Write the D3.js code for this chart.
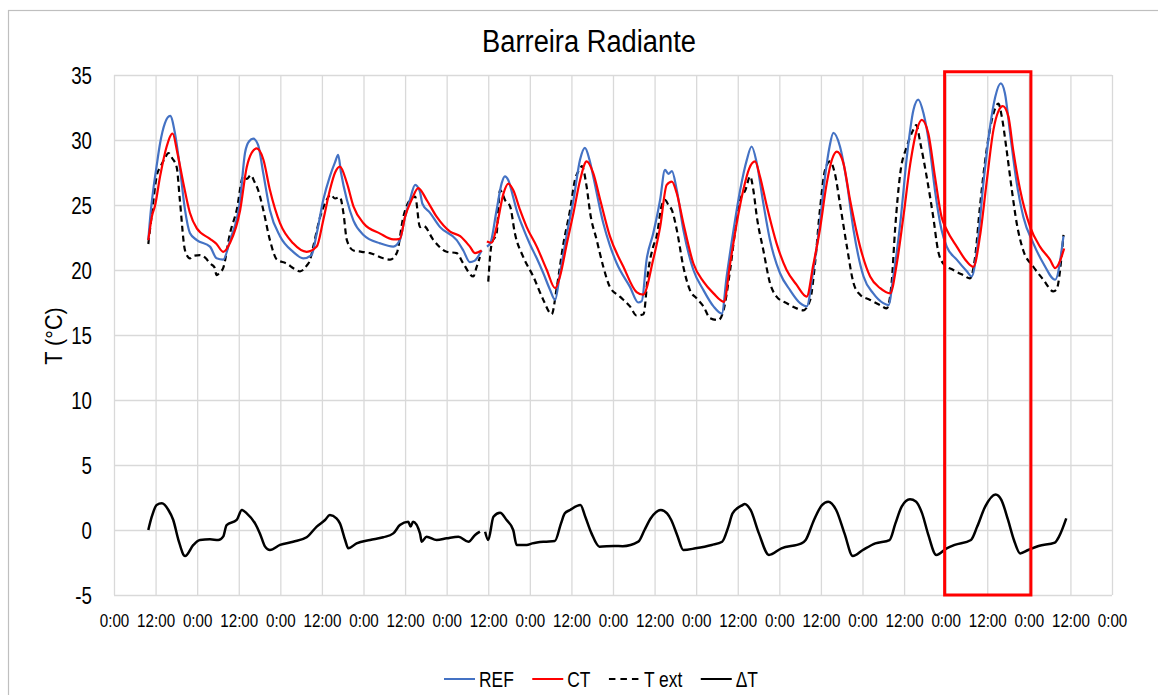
<!DOCTYPE html>
<html>
<head>
<meta charset="utf-8">
<script src="https://cdn.jsdelivr.net/npm/d3@7"></script>
<style>
  body { margin: 0; background: #fff; }
  svg { display: block; }
  text { font-family: "Liberation Sans", Arial, Helvetica, sans-serif; fill: #000; }
</style>
</head>
<body>
<svg id="chart" width="1158" height="695"></svg>
<script>
// Barreira Radiante – temperatures over ~11 days (hours since 0:00 of day 0)
const chartTitle = "Barreira Radiante";
const yAxisTitle = "T (°C)";
const yTickValues = [-5, 0, 5, 10, 15, 20, 25, 30, 35];
const hourTicks = [0, 12, 24, 36, 48, 60, 72, 84, 96, 108, 120, 132, 144, 156, 168, 180, 192, 204, 216, 228, 240, 252, 264, 276, 288];
const hourTickLabels = ["0:00", "12:00", "0:00", "12:00", "0:00", "12:00", "0:00", "12:00", "0:00", "12:00", "0:00", "12:00", "0:00",
  "12:00", "0:00", "12:00", "0:00", "12:00", "0:00", "12:00", "0:00", "12:00", "0:00", "12:00", "0:00"];
const seriesNames = ["REF", "CT", "T ext", "ΔT"];

// [hour, °C]; a null value marks the logging gap
const refTemp = [
  [9.9,22.3],[10.6,24.5],[11.3,26.1],[12.3,28.0],[13.3,29.75],[14.7,31.3],[16.2,31.85],[17.6,30.5],[19.0,27.9],[20.5,24.6],[21.9,22.85],[23.9,22.3],[27.7,21.8],[29.6,20.9],[31.5,20.8],
  [33.5,22.3],[36.4,25.4],[37.8,29.0],[39.0,29.9],[40.2,30.1],[41.6,29.6],[43.1,27.4],[45.0,24.6],[47.9,22.6],[51.7,21.4],[54.6,20.9],[57.0,21.15],
  [58.5,22.8],[60.4,25.4],[62.3,27.2],[63.8,28.3],[64.7,28.85],[65.5,27.5],[67.2,25.4],[69.1,23.8],[72.0,22.7],[76.8,22.05],[80.6,21.8],[82.5,22.3],
  [84.0,24.1],[85.4,25.4],[86.9,26.55],[88.3,26.0],[89.0,25.1],[91.2,24.4],[94.1,23.3],[98.9,22.3],[100.8,21.5],[102.7,20.6],[104.0,20.7],[106.1,21.5],[106.8,null],
  [107.6,21.8],[108.6,22.05],[110.4,24.6],[111.9,26.7],[112.8,27.2],[113.8,26.9],[115.2,25.6],[116.2,24.6],[118.1,23.2],[120.0,22.0],[122.0,20.9],[123.9,19.75],[125.8,18.5],[127.3,17.7],
  [128.7,19.75],[130.7,22.8],[132.6,25.4],[134.5,28.5],[135.9,29.4],[137.2,28.5],[138.3,27.2],[141.2,23.6],[143.1,21.9],[145.1,20.5],[148.9,18.7],[151.3,17.5],[152.3,17.6],
  [153.7,20.8],[155.6,22.8],[157.6,25.4],[159.0,27.7],[160.0,27.4],[161.0,27.6],[162.4,26.15],[164.3,23.1],[167.2,20.0],[170.1,18.45],[173.0,17.2],[175.4,16.65],
  [176.8,19.5],[178.8,23.1],[180.7,26.15],[182.6,28.45],[184.0,29.5],[185.5,28.2],[187.4,25.1],[189.3,22.3],[192.2,19.75],[195.1,18.45],[198.0,17.45],[199.9,17.2],
  [201.8,20.0],[203.7,23.6],[205.2,27.2],[206.5,29.5],[207.6,30.55],[209.5,29.5],[211.5,26.7],[213.4,23.1],[216.3,19.5],[219.1,18.2],[222.0,17.45],[223.5,17.3],
  [224.9,19.5],[226.9,23.6],[228.8,28.7],[230.7,32.3],[232.1,33.1],[233.6,32.05],[235.5,29.2],[236.9,26.15],[238.8,23.1],[240.3,21.8],[243.2,20.8],[246.1,19.9],[247.5,19.5],
  [249.0,21.5],[250.9,26.7],[252.8,31.0],[254.3,33.3],[255.9,34.35],[257.1,33.6],[258.6,30.5],[260.5,26.7],[262.4,24.1],[265.3,22.05],[268.2,20.5],[271.6,19.25],[274.0,22.6]
];

const ctTemp = [
  [9.9,22.3],[11.0,24.2],[11.8,24.9],[13.3,27.2],[15.2,29.5],[16.9,30.5],[18.3,29.0],[20.0,26.7],[21.9,24.4],[23.9,23.2],[27.7,22.4],[29.6,22.0],[31.5,21.4],
  [33.5,22.1],[36.4,24.6],[38.3,27.9],[39.7,29.0],[41.2,29.35],[43.1,28.5],[45.0,26.15],[47.9,23.6],[51.7,22.05],[55.6,21.4],[58.5,21.8],
  [60.4,23.85],[62.3,26.15],[63.8,27.5],[65.2,27.95],[67.2,26.7],[69.1,24.9],[72.0,23.6],[76.8,22.8],[80.6,22.35],[82.5,22.4],
  [84.0,24.1],[85.9,25.4],[87.8,26.3],[90.2,25.4],[93.1,24.1],[97.0,22.95],[99.9,22.6],[102.7,21.8],[104.2,21.3],[106.1,21.5],[106.8,null],
  [107.6,22.2],[109.0,22.1],[110.4,23.3],[112.4,25.9],[113.8,26.65],[115.2,26.15],[117.2,24.6],[119.1,23.3],[122.0,21.8],[124.9,20.0],[127.3,18.6],
  [128.7,19.5],[130.7,22.05],[132.6,24.4],[134.5,26.9],[136.4,28.35],[138.3,27.45],[140.3,25.4],[143.1,22.6],[147.0,20.25],[150.8,18.3],[152.7,18.1],
  [155.6,20.8],[157.6,23.3],[159.5,26.55],[161.0,26.8],[162.4,25.9],[164.3,23.6],[167.2,20.5],[170.1,19.1],[173.0,18.2],[176.0,17.55],
  [177.8,20.5],[179.7,23.6],[181.6,26.15],[183.3,27.8],[185.0,28.35],[186.4,27.2],[188.4,24.9],[191.2,22.05],[194.1,20.0],[197.0,18.85],[199.9,17.95],
  [201.8,20.4],[203.7,23.1],[205.7,26.7],[207.2,28.5],[208.6,29.1],[210.5,28.2],[212.4,25.4],[215.3,21.8],[218.2,19.5],[221.1,18.6],[224.0,18.2],
  [225.9,20.5],[227.8,24.1],[229.8,28.2],[231.7,30.8],[233.1,31.55],[235.0,30.5],[236.9,27.2],[238.8,24.1],[240.3,23.1],[243.2,21.8],[246.1,20.65],[248.0,20.25],
  [249.9,22.6],[251.8,26.7],[253.8,30.8],[255.2,32.2],[256.5,32.6],[258.1,31.8],[259.5,29.2],[261.5,26.15],[264.4,23.3],[267.2,21.8],[270.1,20.8],[271.6,20.15],[274.2,21.65]
];

const extTemp = [
  [9.9,22.0],[11.0,24.5],[12.3,27.2],[13.5,28.0],[14.7,28.6],[15.7,29.0],[16.8,28.6],[18.1,27.9],[19.0,25.4],[20.5,21.5],[21.9,20.9],[23.0,21.1],[24.8,21.15],[26.5,20.9],[27.7,20.5],[29.0,20.2],[29.6,19.6],[30.5,19.8],[31.5,20.15],
  [33.5,22.85],[35.4,24.6],[37.3,27.2],[38.3,27.0],[39.5,27.3],[40.5,26.8],[41.6,26.15],[43.1,24.6],[45.0,22.3],[47.0,20.8],[49.8,20.5],[52.0,20.1],[53.7,19.9],[55.5,20.3],[56.6,20.8],[57.5,21.8],
  [59.5,24.1],[61.4,25.4],[62.5,25.8],[63.8,25.5],[65.2,25.6],[66.2,24.4],[67.2,22.3],[69.1,21.5],[71.5,21.4],[73.9,21.3],[77.7,20.9],[79.7,20.8],[81.6,21.3],
  [83.5,24.1],[85.4,25.4],[86.9,25.65],[88.3,23.3],[89.3,23.4],[92.2,22.3],[96.0,21.4],[98.9,21.3],[100.8,20.5],[103.7,19.5],[104.6,20.2],[105.6,21.0],[106.6,null],
  [108.0,19.1],[109.0,22.05],[110.4,22.8],[111.4,26.15],[111.9,26.0],[112.8,25.4],[114.3,24.9],[115.7,22.8],[118.1,21.0],[121.0,19.5],[123.9,17.7],[126.3,16.6],
  [127.8,18.7],[129.7,22.05],[131.6,24.6],[133.0,26.9],[134.5,27.8],[135.0,28.0],[136.4,26.4],[137.4,24.4],[139.3,22.3],[141.2,20.25],[143.1,18.7],[146.0,17.95],[148.9,17.2],[150.8,16.5],[152.8,16.6],
  [154.2,20.0],[155.6,21.8],[156.6,22.6],[158.0,24.9],[159.0,25.4],[160.0,25.0],[161.0,24.6],[162.4,23.1],[164.3,20.25],[166.2,18.45],[168.2,17.8],[170.1,17.2],[172.0,16.3],[174.4,16.15],
  [175.9,16.9],[177.8,20.0],[179.3,23.1],[180.7,25.4],[182.2,26.15],[183.6,27.2],[184.5,26.15],[185.5,24.1],[187.4,21.5],[189.3,19.0],[191.2,17.95],[194.1,17.45],[197.0,17.05],[198.9,16.9],
  [200.9,17.7],[202.3,20.5],[203.7,24.6],[205.2,27.7],[206.6,28.35],[208.0,27.45],[209.5,25.1],[211.5,21.8],[213.4,19.0],[215.3,18.1],[218.2,17.7],[221.1,17.3],[223.0,17.05],
  [224.4,19.0],[225.4,23.1],[226.9,27.45],[228.8,29.5],[230.7,30.8],[231.5,31.15],[232.7,29.75],[234.5,27.2],[236.4,24.1],[237.8,21.5],[239.3,20.5],[242.2,20.0],[245.1,19.6],[247.0,19.35],
  [248.5,21.0],[249.9,24.9],[251.8,29.2],[253.8,32.05],[255.2,32.8],[256.2,31.8],[257.6,29.2],[259.1,26.15],[260.5,23.6],[262.4,21.5],[265.3,20.25],[268.2,19.25],[271.1,18.35],[272.0,18.5],[274.0,22.7]
];

const deltaT = [
  [9.9,0],[10.9,1.02],[12.3,1.92],[13.8,2.05],[15.7,1.54],[17.1,0.77],[18.6,-0.77],[20.5,-2.0],[22.9,-1.15],[24.8,-0.77],[27.7,-0.72],[30.1,-0.77],[31.5,-0.51],
  [32.5,0.38],[35.4,0.77],[36.9,1.54],[38.3,1.28],[40.7,0.51],[42.1,-0.26],[43.6,-1.28],[45.0,-1.54],[47.9,-1.15],[51.7,-0.9],[55.6,-0.56],
  [58.5,0.26],[60.9,0.77],[62.3,1.15],[64.2,0.9],[65.2,0.51],[66.7,-0.77],[67.6,-1.41],[70.0,-1.03],[73.9,-0.77],[77.7,-0.56],[80.6,-0.26],
  [82.5,0.38],[84.9,0.64],[85.6,0.26],[86.3,0.64],[88.3,-0.26],[88.8,-0.9],[90.2,-0.51],[93.1,-0.77],[96.0,-0.64],[99.4,-0.51],[102.3,-0.9],[104.2,-0.38],[105.6,-0.13],[106.4,null],
  [107.1,-0.13],[108.0,-0.77],[109.5,1.02],[111.4,1.33],[113.3,0.77],[115.2,0],[116.2,-1.15],[119.1,-1.15],[120.7,-1.03],[124.2,-0.9],[127.2,-0.85],
  [129.0,0.51],[130.1,1.28],[131.6,1.54],[134.6,1.92],[136.0,1.02],[137.8,-0.26],[140.1,-1.28],[144.3,-1.23],[146.8,-1.25],[151.3,-0.9],
  [153.1,0],[154.9,0.9],[157.8,1.54],[159.6,1.28],[160.8,0.77],[162.5,-0.38],[164.3,-1.54],[167.8,-1.41],[172.5,-1.15],[175.5,-0.9],
  [177.3,0.26],[178.5,1.28],[181.4,1.92],[182.0,2.0],[183.7,1.54],[186.1,-0.26],[189.0,-1.92],[192.6,-1.41],[198.4,-1.03],[199.6,-0.77],
  [202.0,0.77],[204.3,1.92],[206.1,2.18],[208.4,1.54],[210.8,-0.26],[213.2,-2.0],[216.1,-1.54],[219.7,-1.03],[223.8,-0.77],
  [225.5,0.51],[227.3,1.8],[229.7,2.36],[231.4,2.2],[233.2,1.28],[235.0,-0.38],[237.3,-1.92],[240.3,-1.41],[242.6,-1.15],[247.3,-0.77],
  [249.1,0.26],[251.4,1.8],[254.4,2.74],[256.1,2.3],[258.0,0.77],[259.7,-0.77],[261.5,-1.8],[263.8,-1.54],[266.8,-1.23],[271.5,-0.97],[272.7,-0.51],[274.8,0.9]
];

// highlighted interval (hours) and its temperature span
const highlightHours = [239.7, 264.6];
const highlightTemps = [-5, 35.25];

const svg = d3.select("#chart");
const plot = { left: 114, right: 1112, top: 75, bottom: 595 };

const x = d3.scaleLinear().domain([0, 288]).range([plot.left, plot.right]);
const y = d3.scaleLinear().domain([-5, 35]).range([plot.bottom, plot.top]);

// squeeze text horizontally to get the narrow look of the labels
function squeeze(sel, k) {
  sel.each(function () {
    const w = this.getComputedTextLength();
    this.setAttribute("textLength", (w * k).toFixed(2));
    this.setAttribute("lengthAdjust", "spacingAndGlyphs");
  });
}

// outer chart frame
svg.append("rect")
  .attr("x", 8.5).attr("y", 10.5).attr("width", 1170).attr("height", 700)
  .attr("fill", "#fff").attr("stroke", "#bfbfbf").attr("stroke-width", 1.2);

// title
svg.append("text")
  .attr("x", 589).attr("y", 52)
  .attr("text-anchor", "middle")
  .style("font-size", "31px")
  .text(chartTitle)
  .call(squeeze, 0.88);

// gridlines
const gridColor = "#d9d9d9";
svg.append("g")
  .attr("transform", `translate(0,${plot.bottom})`)
  .call(d3.axisBottom(x).tickValues(hourTicks).tickSize(-(plot.bottom - plot.top)).tickFormat(""))
  .call(g => g.select(".domain").remove())
  .call(g => g.selectAll("line").attr("stroke", gridColor).attr("stroke-width", 1.3));

svg.append("g")
  .attr("transform", `translate(${plot.left},0)`)
  .call(d3.axisLeft(y).tickValues(yTickValues).tickSize(-(plot.right - plot.left)).tickFormat(""))
  .call(g => g.select(".domain").remove())
  .call(g => g.selectAll("line").attr("stroke", gridColor).attr("stroke-width", 1.3));

// axis labels
const yAxisG = svg.append("g")
  .attr("transform", `translate(${plot.left},0)`)
  .call(d3.axisLeft(y).tickValues(yTickValues).tickSize(0).tickPadding(22).tickFormat(d => String(d)));
yAxisG.select(".domain").remove();
yAxisG.selectAll("text")
  .attr("font-family", null)
  .style("font-size", "24px")
  .attr("dy", "0.36em")
  .call(squeeze, 0.78);

const xAxisG = svg.append("g")
  .attr("transform", `translate(0,${plot.bottom})`)
  .call(d3.axisBottom(x).tickValues(hourTicks).tickSize(0).tickPadding(19).tickFormat((d, i) => hourTickLabels[i]));
xAxisG.select(".domain").remove();
xAxisG.selectAll("text")
  .attr("font-family", null)
  .style("font-size", "18.5px")
  .call(squeeze, 0.82);

svg.append("text")
  .attr("transform", `translate(62,336) rotate(-90)`)
  .attr("text-anchor", "middle")
  .style("font-size", "24px")
  .text(yAxisTitle)
  .call(squeeze, 0.9);

// series lines
const line = d3.line()
  .defined(d => d[1] !== null)
  .x(d => x(d[0]))
  .y(d => y(d[1]))
  .curve(d3.curveMonotoneX);

const styles = [
  { data: refTemp, color: "#4472c4", width: 2.2, dash: null },
  { data: ctTemp, color: "#ff0000", width: 2.2, dash: null },
  { data: extTemp, color: "#000", width: 2.2, dash: "6,4" },
  { data: deltaT, color: "#000", width: 2.5, dash: null }
];
const linesG = svg.append("g");
// T ext underneath, then REF and CT; ΔT on its own band
[styles[2], styles[0], styles[1], styles[3]].forEach(s => {
  linesG.append("path")
    .datum(s.data)
    .attr("fill", "none")
    .attr("stroke", s.color)
    .attr("stroke-width", s.width)
    .attr("stroke-linejoin", "round")
    .attr("stroke-dasharray", s.dash)
    .attr("d", line);
});

// highlighted day
svg.append("rect")
  .attr("x", x(highlightHours[0]))
  .attr("y", y(highlightTemps[1]))
  .attr("width", x(highlightHours[1]) - x(highlightHours[0]))
  .attr("height", y(highlightTemps[0]) - y(highlightTemps[1]))
  .attr("fill", "none").attr("stroke", "#ff0000").attr("stroke-width", 3);

// legend
const legend = svg.append("g");
let lx = 444;
seriesNames.forEach((name, i) => {
  const s = styles[i];
  legend.append("line")
    .attr("x1", lx).attr("x2", lx + 31).attr("y1", 679).attr("y2", 679)
    .attr("stroke", s.color).attr("stroke-width", 2)
    .attr("stroke-dasharray", s.dash ? "6.5,5" : null);
  const t = legend.append("text")
    .attr("x", lx + 35).attr("y", 687)
    .style("font-size", "22px")
    .text(name);
  const natural = t.node().getComputedTextLength();
  t.call(squeeze, 0.79);
  lx += 35 + natural * 0.79 + 18.5;
});
</script>
</body>
</html>
